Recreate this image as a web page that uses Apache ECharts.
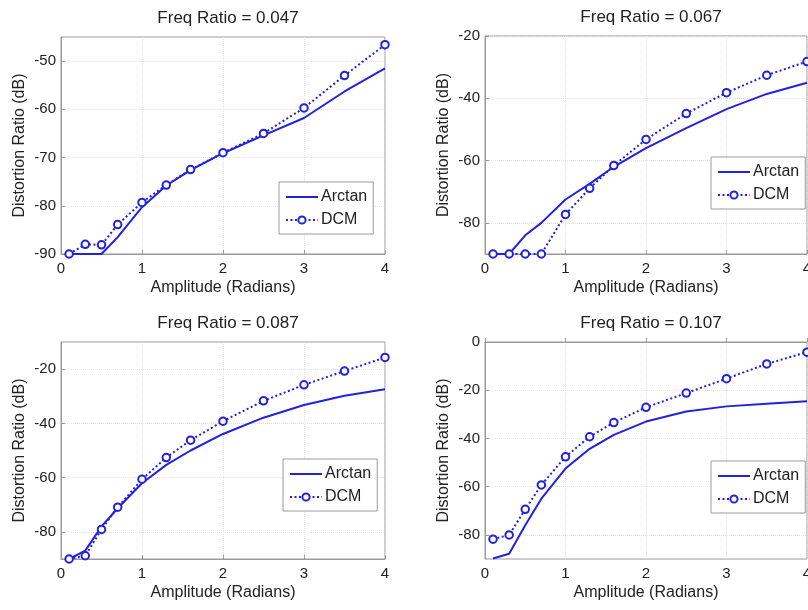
<!DOCTYPE html>
<html>
<head>
<meta charset="utf-8">
<script src="https://cdn.jsdelivr.net/npm/echarts@6/dist/echarts.min.js"></script>
<style>
html,body{margin:0;padding:0;background:#fff;}
#chart{width:808px;height:610px;}
</style>
</head>
<body>
<div id="chart"></div>
<script>
// Amplitude sample points (radians)
const amplitude = [0.1, 0.3, 0.5, 0.7, 1.0, 1.3, 1.6, 2.0, 2.5, 3.0, 3.5, 4.0];

// Panel titles
const titles = ['Freq Ratio = 0.047', 'Freq Ratio = 0.067', 'Freq Ratio = 0.087', 'Freq Ratio = 0.107'];

// Distortion ratio (dB) per panel
const arctan047 = [-90, -90, -90, -86.5, -80.3, -75.8, -72.6, -69.1, -65.4, -61.8, -56.3, -51.5];
const dcm047    = [-90, -88, -88.1, -83.9, -79.3, -75.7, -72.5, -69.0, -65.0, -59.7, -53.0, -46.6];
const arctan067 = [-90, -90, -84, -80, -72.5, -67.5, -62, -56, -49.6, -43.5, -38.6, -35];
const dcm067    = [-90, -90, -90, -90, -77.3, -68.9, -61.6, -53.2, -44.9, -38.2, -32.6, -28.2];
const arctan087 = [-90, -86.9, -78, -71.3, -62.1, -55.3, -50, -43.9, -37.9, -33.2, -29.8, -27.4];
const dcm087    = [-90, -88.8, -79.1, -70.9, -60.6, -52.6, -46.2, -39.2, -31.7, -25.8, -20.7, -15.7];
const arctan107 = [-89.8, -87.8, -76, -65, -52.5, -44.3, -38.5, -33, -28.8, -26.7, -25.6, -24.6];
const dcm107    = [-81.8, -80, -69.4, -59.3, -47.6, -39.3, -33.4, -27.1, -21.2, -15.2, -9.1, -4.2];

// Axis ranges and tick labels
const xTicks = [0, 1, 2, 3, 4];
const yMin = [-90, -90, -90, -90];
const yMax = [-45, -20, -10, 0];
const yTicks047 = [-90, -80, -70, -60, -50];
const yTicks067 = [-80, -60, -40, -20];
const yTicks087 = [-80, -60, -40, -20];
const yTicks107 = [-80, -60, -40, -20, 0];

const arctanData = [arctan047, arctan067, arctan087, arctan107];
const dcmData = [dcm047, dcm067, dcm087, dcm107];
const yTicks = [yTicks047, yTicks067, yTicks087, yTicks107];

// Layout (pixels)
const grids = [
  {left: 61, top: 37, width: 324, height: 217},
  {left: 485, top: 36, width: 322, height: 218},
  {left: 61, top: 342, width: 324, height: 217},
  {left: 485, top: 342, width: 322, height: 217}
];
const legendPos = [
  {left: 279, top: 182},
  {left: 711, top: 157},
  {left: 283, top: 459},
  {left: 711, top: 461}
];

const blue = '#2222dc';
const font = 'Liberation Sans, Arial, Helvetica, sans-serif';

const option = {
  animation: false,
  backgroundColor: '#fff',
  textStyle: {fontFamily: font},
  title: grids.map((g, i) => ({
    text: titles[i],
    left: g.left + g.width / 2,
    top: g.top - 32,
    textAlign: 'center',
    textStyle: {fontFamily: font, fontSize: 17, fontWeight: 'normal', color: '#222'}
  })),
  legend: legendPos.map((p, i) => ({
    data: [
      {name: 'Arctan', icon: 'path://M0,0H32V2H0Z'},
      {name: 'DCM'}
    ],
    orient: 'vertical',
    left: p.left,
    top: p.top,
    padding: [7, 6, 6, 6],
    itemGap: 7,
    itemWidth: 32,
    itemHeight: 9,
    backgroundColor: '#fff',
    borderColor: '#9a9a9a',
    borderWidth: 1,
    borderRadius: 0,
    textStyle: {fontFamily: font, fontSize: 16, color: '#222', padding: [0, 0, 0, -2]},
    selectedMode: false
  })),
  grid: grids.map(g => Object.assign({show: true, borderColor: '#9a9a9a', borderWidth: 1, backgroundColor: '#fff', containLabel: false, outerBoundsMode: 'none'}, g)),
  xAxis: grids.map((g, i) => ({
    type: 'value',
    gridIndex: i,
    min: xTicks[0],
    max: xTicks[xTicks.length - 1],
    interval: 1,
    name: 'Amplitude (Radians)',
    nameLocation: 'middle',
    nameGap: 26,
    nameTextStyle: {fontFamily: font, fontSize: 16, color: '#222'},
    axisLine: {show: true, lineStyle: {color: '#9a9a9a'}},
    axisTick: {show: true, inside: true, length: 4, lineStyle: {color: '#9a9a9a'}},
    axisLabel: {fontFamily: font, fontSize: 15, color: '#222', margin: 7},
    splitLine: {show: true, lineStyle: {color: '#e2e2e2', type: 'dotted', width: 1}}
  })),
  yAxis: grids.map((g, i) => ({
    type: 'value',
    gridIndex: i,
    min: yMin[i],
    max: yMax[i],
    name: 'Distortion Ratio (dB)',
    nameLocation: 'middle',
    nameGap: 33,
    nameTextStyle: {fontFamily: font, fontSize: 16, color: '#222'},
    axisLine: {show: true, lineStyle: {color: '#9a9a9a'}},
    axisTick: {show: true, inside: true, length: 4, customValues: yTicks[i], lineStyle: {color: '#9a9a9a'}},
    axisLabel: {fontFamily: font, fontSize: 15, color: '#222', margin: 5, customValues: yTicks[i]},
    splitLine: {show: true, lineStyle: {color: '#e2e2e2', type: 'dotted', width: 1}}
  })),
  series: []
};

for (let i = 0; i < 4; i++) {
  option.series.push({
    name: 'Arctan',
    type: 'line',
    xAxisIndex: i,
    yAxisIndex: i,
    data: amplitude.map((x, k) => [x, arctanData[i][k]]),
    symbol: 'none',
    lineStyle: {color: blue, width: 2},
    itemStyle: {color: blue},
    clip: true,
    z: 3
  });
  option.series.push({
    name: 'DCM',
    type: 'line',
    xAxisIndex: i,
    yAxisIndex: i,
    data: amplitude.map((x, k) => [x, dcmData[i][k]]),
    symbol: 'circle',
    symbolSize: 7.5,
    showAllSymbol: true,
    lineStyle: {color: blue, width: 2, type: [2, 2.5]},
    itemStyle: {color: '#fff', borderColor: blue, borderWidth: 2},
    clip: false,
    z: 4
  });
}

const chart = echarts.init(document.getElementById('chart'), null, {renderer: 'canvas'});
chart.setOption(option);
</script>
</body>
</html>
